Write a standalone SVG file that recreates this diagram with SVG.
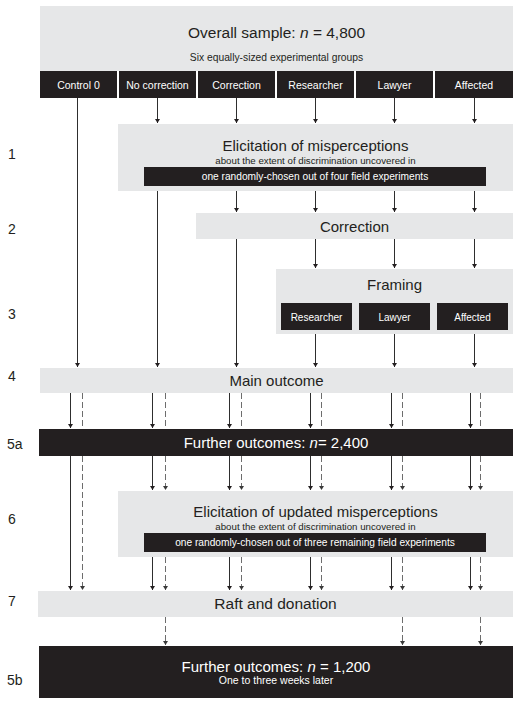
<svg xmlns="http://www.w3.org/2000/svg" width="521" height="705" viewBox="0 0 521 705">
<style>
text{font-family:"Liberation Sans",Arial,sans-serif;fill:#231f20}
.g{fill:#e6e7e8}
.b{fill:#231f20}
.w{fill:#ffffff}
.c{text-anchor:middle}
.h{font-size:10.5px}
.t{font-size:15px}
.m{font-size:15px}
.s{font-size:9.7px}
.lab{font-size:14px}
.sl{stroke:#2e2e2e;stroke-width:1;fill:none}
.dl{stroke:#6d6d6d;stroke-width:1;fill:none;stroke-dasharray:6 3}
</style>
<defs>
<marker id="ah" viewBox="0 0 4 5" refX="4" refY="2.5" markerWidth="4" markerHeight="5" orient="auto" markerUnits="userSpaceOnUse"><path d="M0,0 L4,2.5 L0,5 z" fill="#231f20"/></marker>
<marker id="ahg" viewBox="0 0 4 5" refX="4" refY="2.5" markerWidth="4" markerHeight="5" orient="auto" markerUnits="userSpaceOnUse"><path d="M0,0 L4,2.5 L0,5 z" fill="#3a3a3a"/></marker>
</defs>

<g id="step-labels">
<text class="lab" x="8" y="159">1</text>
<text class="lab" x="8" y="234">2</text>
<text class="lab" x="8" y="319">3</text>
<text class="lab" x="8" y="381">4</text>
<text class="lab" x="7" y="449">5a</text>
<text class="lab" x="8" y="524">6</text>
<text class="lab" x="8" y="606">7</text>
<text class="lab" x="7" y="685">5b</text>
</g>

<g id="connectors">
<line class="sl" x1="77.5" y1="98" x2="77.5" y2="367" marker-end="url(#ah)"/>
<line class="sl" x1="157.5" y1="98" x2="157.5" y2="123" marker-end="url(#ah)"/>
<line class="sl" x1="236.5" y1="98" x2="236.5" y2="123" marker-end="url(#ah)"/>
<line class="sl" x1="315.5" y1="98" x2="315.5" y2="123" marker-end="url(#ah)"/>
<line class="sl" x1="394.5" y1="98" x2="394.5" y2="123" marker-end="url(#ah)"/>
<line class="sl" x1="474.5" y1="98" x2="474.5" y2="123" marker-end="url(#ah)"/>
<line class="sl" x1="157.5" y1="191" x2="157.5" y2="367" marker-end="url(#ah)"/>
<line class="sl" x1="236.5" y1="191" x2="236.5" y2="212" marker-end="url(#ah)"/>
<line class="sl" x1="315.5" y1="191" x2="315.5" y2="212" marker-end="url(#ah)"/>
<line class="sl" x1="394.5" y1="191" x2="394.5" y2="212" marker-end="url(#ah)"/>
<line class="sl" x1="474.5" y1="191" x2="474.5" y2="212" marker-end="url(#ah)"/>
<line class="sl" x1="236.5" y1="239" x2="236.5" y2="367" marker-end="url(#ah)"/>
<line class="sl" x1="315.5" y1="239" x2="315.5" y2="268" marker-end="url(#ah)"/>
<line class="sl" x1="394.5" y1="239" x2="394.5" y2="268" marker-end="url(#ah)"/>
<line class="sl" x1="474.5" y1="239" x2="474.5" y2="268" marker-end="url(#ah)"/>
<line class="sl" x1="315.5" y1="334" x2="315.5" y2="367" marker-end="url(#ah)"/>
<line class="sl" x1="394.5" y1="334" x2="394.5" y2="367" marker-end="url(#ah)"/>
<line class="sl" x1="474.5" y1="334" x2="474.5" y2="367" marker-end="url(#ah)"/>
<line class="sl" x1="70.5" y1="393" x2="70.5" y2="428" marker-end="url(#ah)"/>
<line class="sl" x1="152.5" y1="393" x2="152.5" y2="428" marker-end="url(#ah)"/>
<line class="sl" x1="229.5" y1="393" x2="229.5" y2="428" marker-end="url(#ah)"/>
<line class="sl" x1="310.5" y1="393" x2="310.5" y2="428" marker-end="url(#ah)"/>
<line class="sl" x1="391.5" y1="393" x2="391.5" y2="428" marker-end="url(#ah)"/>
<line class="sl" x1="470.5" y1="393" x2="470.5" y2="428" marker-end="url(#ah)"/>
<line class="dl" x1="82.5" y1="393" x2="82.5" y2="429"/>
<line class="dl" x1="165.5" y1="393" x2="165.5" y2="429"/>
<line class="dl" x1="241.5" y1="393" x2="241.5" y2="429"/>
<line class="dl" x1="321.5" y1="393" x2="321.5" y2="429"/>
<line class="dl" x1="402.5" y1="393" x2="402.5" y2="429"/>
<line class="dl" x1="480.5" y1="393" x2="480.5" y2="429"/>
<line class="sl" x1="70.5" y1="456" x2="70.5" y2="590" marker-end="url(#ah)"/>
<line class="dl" x1="82.5" y1="456" x2="82.5" y2="590" marker-end="url(#ahg)"/>
<line class="sl" x1="152.5" y1="456" x2="152.5" y2="490" marker-end="url(#ah)"/>
<line class="dl" x1="165.5" y1="456" x2="165.5" y2="490" marker-end="url(#ahg)"/>
<line class="sl" x1="229.5" y1="456" x2="229.5" y2="490" marker-end="url(#ah)"/>
<line class="dl" x1="241.5" y1="456" x2="241.5" y2="490" marker-end="url(#ahg)"/>
<line class="sl" x1="310.5" y1="456" x2="310.5" y2="490" marker-end="url(#ah)"/>
<line class="dl" x1="321.5" y1="456" x2="321.5" y2="490" marker-end="url(#ahg)"/>
<line class="sl" x1="391.5" y1="456" x2="391.5" y2="490" marker-end="url(#ah)"/>
<line class="dl" x1="402.5" y1="456" x2="402.5" y2="490" marker-end="url(#ahg)"/>
<line class="sl" x1="470.5" y1="456" x2="470.5" y2="490" marker-end="url(#ah)"/>
<line class="dl" x1="480.5" y1="456" x2="480.5" y2="490" marker-end="url(#ahg)"/>
<line class="sl" x1="152.5" y1="557" x2="152.5" y2="590" marker-end="url(#ah)"/>
<line class="dl" x1="165.5" y1="557" x2="165.5" y2="590" marker-end="url(#ahg)"/>
<line class="sl" x1="229.5" y1="557" x2="229.5" y2="590" marker-end="url(#ah)"/>
<line class="dl" x1="241.5" y1="557" x2="241.5" y2="590" marker-end="url(#ahg)"/>
<line class="sl" x1="310.5" y1="557" x2="310.5" y2="590" marker-end="url(#ah)"/>
<line class="dl" x1="321.5" y1="557" x2="321.5" y2="590" marker-end="url(#ahg)"/>
<line class="sl" x1="391.5" y1="557" x2="391.5" y2="590" marker-end="url(#ah)"/>
<line class="dl" x1="402.5" y1="557" x2="402.5" y2="590" marker-end="url(#ahg)"/>
<line class="sl" x1="470.5" y1="557" x2="470.5" y2="590" marker-end="url(#ah)"/>
<line class="dl" x1="480.5" y1="557" x2="480.5" y2="590" marker-end="url(#ahg)"/>
<line class="dl" x1="165.5" y1="617" x2="165.5" y2="645" marker-end="url(#ahg)"/>
<line class="dl" x1="402.5" y1="617" x2="402.5" y2="645" marker-end="url(#ahg)"/>
<line class="dl" x1="480.5" y1="617" x2="480.5" y2="645" marker-end="url(#ahg)"/>
</g>

<g id="overall-sample">
<rect class="g" x="40" y="6" width="473" height="65"/>
<text class="c" x="276.5" y="38" font-size="15.5">Overall sample: <tspan font-style="italic">n</tspan> = 4,800</text>
<text class="c" x="276.5" y="61" font-size="10.3">Six equally-sized experimental groups</text>
</g>

<g id="group-control0"><rect class="b" x="40" y="71" width="77" height="27"/><text class="c h w" x="78.5" y="89">Control 0</text></g>
<g id="group-nocorrection"><rect class="b" x="119" y="71" width="77" height="27"/><text class="c h w" x="157.5" y="89">No correction</text></g>
<g id="group-correction"><rect class="b" x="198" y="71" width="77" height="27"/><text class="c h w" x="236.5" y="89">Correction</text></g>
<g id="group-researcher"><rect class="b" x="277" y="71" width="77" height="27"/><text class="c h w" x="315.5" y="89">Researcher</text></g>
<g id="group-lawyer"><rect class="b" x="356" y="71" width="77" height="27"/><text class="c h w" x="394.5" y="89">Lawyer</text></g>
<g id="group-affected"><rect class="b" x="435" y="71" width="78" height="27"/><text class="c h w" x="474" y="89">Affected</text></g>

<g id="step1-elicitation">
<rect class="g" x="118" y="124" width="395" height="67"/>
<text class="c t" x="315.5" y="151">Elicitation of misperceptions</text>
<text class="c s" x="315.5" y="164">about the extent of discrimination uncovered in</text>
<rect class="b" x="144" y="167" width="342" height="19"/>
<text class="c w" x="315" y="180" font-size="10.2">one randomly-chosen out of four field experiments</text>
</g>

<g id="step2-correction">
<rect class="g" x="196" y="213" width="317" height="26"/>
<text class="c" x="354.5" y="231.5" font-size="15">Correction</text>
</g>

<g id="step3-framing">
<rect class="g" x="276" y="269" width="237" height="65"/>
<text class="c" x="394.5" y="290" font-size="15">Framing</text>
<rect class="b" x="281" y="303" width="71" height="27"/>
<text class="c w" x="316.5" y="320.5" font-size="10">Researcher</text>
<rect class="b" x="359" y="303" width="71" height="27"/>
<text class="c w" x="394.5" y="320.5" font-size="10">Lawyer</text>
<rect class="b" x="437" y="303" width="71" height="27"/>
<text class="c w" x="472.5" y="320.5" font-size="10">Affected</text>
</g>

<g id="step4-main-outcome">
<rect class="g" x="40" y="368" width="473" height="25"/>
<text class="c m" x="276.5" y="386">Main outcome</text>
</g>

<g id="step5a-further-outcomes">
<rect class="b" x="39" y="429" width="474" height="27"/>
<text class="c t w" x="276" y="447.5">Further outcomes: <tspan font-style="italic">n</tspan>= 2,400</text>
</g>

<g id="step6-updated-elicitation">
<rect class="g" x="118" y="491" width="395" height="66"/>
<text class="c t" x="315.5" y="517">Elicitation of updated misperceptions</text>
<text class="c s" x="315.5" y="530">about the extent of discrimination uncovered in</text>
<rect class="b" x="144" y="533" width="342" height="19"/>
<text class="c w" x="315" y="546" font-size="10.2">one randomly-chosen out of three remaining field experiments</text>
</g>

<g id="step7-raft-donation">
<rect class="g" x="38" y="591" width="475" height="26"/>
<text class="c" x="275.5" y="608.5" font-size="15.5">Raft and donation</text>
</g>

<g id="step5b-further-outcomes">
<rect class="b" x="39" y="646" width="474" height="52"/>
<text class="c t w" x="276" y="672">Further outcomes: <tspan font-style="italic">n</tspan> = 1,200</text>
<text class="c w" x="276" y="684" font-size="10.5">One to three weeks later</text>
</g>
</svg>
